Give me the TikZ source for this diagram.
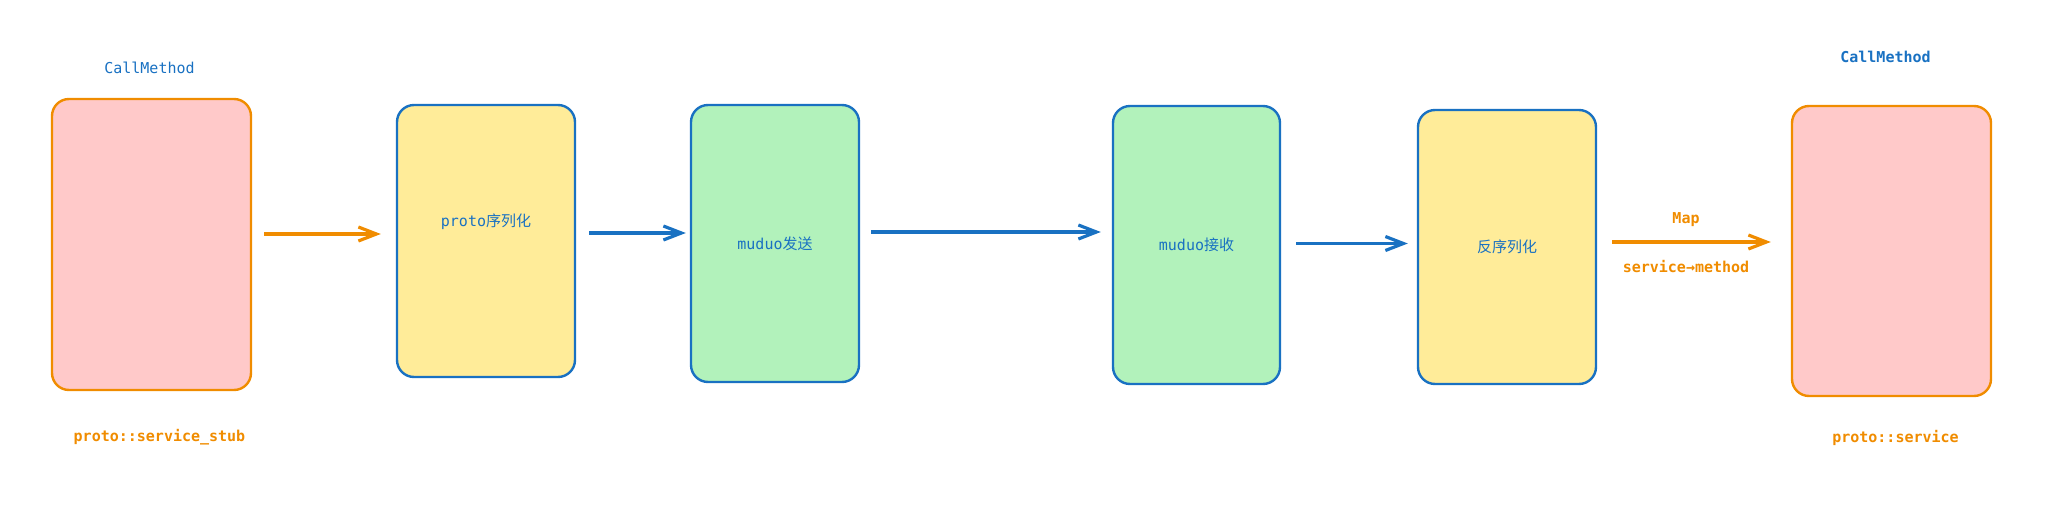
\documentclass[tikz,border=0pt]{standalone}
\usepackage{fontspec}
\setmainfont{DejaVu Sans Mono}
\newfontfamily\cjk{Noto Sans CJK SC}
\usetikzlibrary{arrows.meta}
\definecolor{strokeorange}{HTML}{F08C00}
\definecolor{strokeblue}{HTML}{1971C2}
\definecolor{fillpink}{HTML}{FFC9C9}
\definecolor{fillyellow}{HTML}{FFEC99}
\definecolor{fillgreen}{HTML}{B2F2BB}
\tikzset{
	block/.style={draw, line width=1.2pt, rounded corners=8.5pt, inner sep=0pt, text=strokeblue, font=\fontsize{7.5}{9}\selectfont},
	stubbox/.style={block, draw=strokeorange, fill=fillpink},
	serbox/.style={block, draw=strokeblue, fill=fillyellow},
	netbox/.style={block, draw=strokeblue, fill=fillgreen},
	lbl/.style={inner sep=1pt, font=\fontsize{7.5}{9}\selectfont},
	flow/.style={line width=1.6pt, -{Straight Barb[length=9pt,width=7pt]}},
}
\begin{document}
\begin{tikzpicture}[x=0.5pt, y=-0.5pt]
		\useasboundingbox (0,0) rectangle (2052,508);
		% boxes
		\node[stubbox, minimum width=99.5pt, minimum height=145.5pt] (b1) at (151.5,244.5) {};
		\node[serbox, minimum width=89pt, minimum height=136pt, label={[lbl, text=strokeblue, yshift=9.5pt]center:proto{\cjk 序列化}}] (b2) at (486,241) {};
		\node[netbox, minimum width=84pt, minimum height=138.5pt] (b3) at (775,243.5) {muduo{\cjk 发送}};
		\node[netbox, minimum width=83.5pt, minimum height=139pt] (b4) at (1196.5,245) {muduo{\cjk 接收}};
		\node[serbox, minimum width=89pt, minimum height=137pt] (b5) at (1507,247) {\cjk 反序列化};
		\node[stubbox, minimum width=99.5pt, minimum height=145pt] (b6) at (1891.5,251) {};
		
		% labels
		\node[lbl, text=strokeblue] (call1) at ([xshift=-1pt, yshift=15pt]b1.north) {CallMethod};
		\node[lbl, text=strokeblue, font=\fontsize{7.5}{9}\selectfont\bfseries] (call2) at ([xshift=-3pt, yshift=24pt]b6.north) {CallMethod};
		\node[lbl, text=strokeorange, font=\fontsize{7.5}{9}\selectfont\bfseries] (stub) at ([xshift=4pt, yshift=-23pt]b1.south) {proto::service\_stub};
		\node[lbl, text=strokeorange, font=\fontsize{7.5}{9}\selectfont\bfseries] (svc) at ([xshift=2pt, yshift=-20.5pt]b6.south) {proto::service};
		
		% connectors
		\coordinate (m1) at ([yshift=5.25pt]b1.east);
		\coordinate (m2) at ([yshift=4pt]b2.east);
		\coordinate (m3) at ([yshift=5.75pt]b3.east);
		\coordinate (m4) at ([yshift=0.75pt]b4.east);
		\coordinate (m5) at ([yshift=2.5pt]b5.east);
		\draw[flow, strokeorange, shorten <=6pt, shorten >=7.5pt] (m1) -- (m1 -| b2.west);
		\draw[flow, strokeblue, shorten <=6.5pt, shorten >=2pt] (m2) -- (m2 -| b3.west);
		\draw[flow, strokeblue, shorten <=5.5pt, shorten >=5.5pt] (m3) -- (m3 -| b4.west);
		\draw[flow, strokeblue, shorten <=7.5pt, shorten >=4.5pt] (m4) -- (m4 -| b5.west);
		\draw[flow, strokeorange, shorten <=7.5pt, shorten >=10pt] (m5) -- (m5 -| b6.west)
			node[lbl, midway, xshift=-4pt, yshift=11pt, text=strokeorange, font=\fontsize{7.5}{9}\selectfont\bfseries] {Map}
			node[lbl, midway, xshift=-4pt, yshift=-12.5pt, text=strokeorange, font=\fontsize{7.5}{9}\selectfont\bfseries] {service→method};
	\end{tikzpicture}
\end{document}
